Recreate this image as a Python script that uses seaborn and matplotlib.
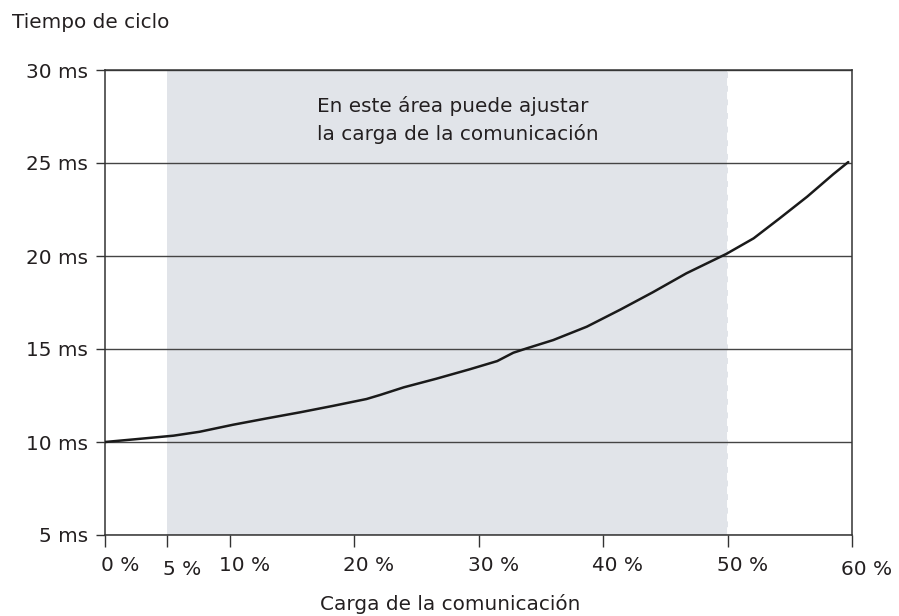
import matplotlib
matplotlib.use("Agg")
import matplotlib.pyplot as plt
import matplotlib.transforms as mtransforms
import seaborn as sns
import pandas as pd

# Communication load (%) vs. cycle time (ms)
load_pct = [0, 2.3, 5.5, 7.6, 10.3, 13.0, 15.7, 18.3, 21.0, 22.1, 24.0,
            26.6, 29.3, 31.5, 32.8, 33.9, 36.0, 38.7, 41.4, 44.0, 46.7,
            49.9, 52.1, 54.2, 56.4, 58.5, 59.7]
cycle_ms = [10.0, 10.14, 10.34, 10.55, 10.93, 11.27, 11.6, 11.94, 12.31,
            12.53, 12.94, 13.4, 13.91, 14.35, 14.8, 15.04, 15.48, 16.2,
            17.12, 18.05, 19.07, 20.11, 20.95, 22.03, 23.19, 24.4, 25.05]

x_ticks = [0, 5, 10, 20, 30, 40, 50, 60]
x_tick_labels = [f"{v} %" for v in x_ticks]
y_ticks = [5, 10, 15, 20, 25, 30]
y_tick_labels = [f"{v} ms" for v in y_ticks]

adjust_range = (5, 50)
note_lines = ["En este área puede ajustar", "la carga de la comunicación"]
y_title = "Tiempo de ciclo"
x_title = "Carga de la comunicación"

sns.set_theme(style="ticks")
plt.rcParams["font.family"] = ["DejaVu Sans"]

TXT = "#231f20"
FS = 14.4
W, H = 899, 616

fig = plt.figure(figsize=(W / 100, H / 100), dpi=100)
ax = fig.add_axes([105 / W, 1 - 535 / H, (852 - 105) / W, (535 - 70) / H])

df = pd.DataFrame({"carga": load_pct, "ciclo": cycle_ms})

# shaded adjustable zone
ax.axvspan(*adjust_range, color="#e1e4e9", zorder=0, lw=0)
ax.axvline(adjust_range[1], color="white", lw=1.4, ls=(0, (4, 3)), zorder=0.2)

sns.lineplot(data=df, x="carga", y="ciclo", ax=ax, color="#1a1a1a",
             lw=1.8, estimator=None, zorder=3)

ax.set_xlim(0, 60)
ax.set_ylim(5, 30)
ax.set_xlabel("")
ax.set_ylabel("")

ax.set_xticks(x_ticks)
ax.set_xticklabels(x_tick_labels, fontsize=FS, color=TXT)
ax.set_yticks(y_ticks)
ax.set_yticklabels(y_tick_labels, fontsize=FS, color=TXT)
ax.tick_params(axis="x", length=8.5, width=1, color="#333333", pad=6.5)
ax.tick_params(axis="y", length=6.5, width=1, color="#333333", pad=5.5)

# shift x tick labels to the right of their ticks
for val, lab in zip(x_ticks, ax.get_xticklabels()):
    dy = -4 / 100 if val in (5, 60) else 0
    off = mtransforms.ScaledTranslation(15 / 100, dy, fig.dpi_scale_trans)
    lab.set_transform(lab.get_transform() + off)

ax.set_axisbelow(True)
ax.yaxis.grid(True, color="#444444", lw=1.0)
ax.xaxis.grid(False)

for sp in ax.spines.values():
    sp.set_visible(True)
    sp.set_color("#333333")
    sp.set_linewidth(1.1)

# note inside the shaded zone
ax.text(317 / W, 1 - 112 / H, note_lines[0], transform=fig.transFigure,
        fontsize=FS, color=TXT, ha="left", va="baseline")
ax.text(317 / W, 1 - 140 / H, note_lines[1], transform=fig.transFigure,
        fontsize=FS, color=TXT, ha="left", va="baseline")

fig.text(12 / W, 1 - 28 / H, y_title, fontsize=FS, color=TXT,
         ha="left", va="baseline")
fig.text(450 / W, 1 - 610 / H, x_title, fontsize=FS, color=TXT,
         ha="center", va="baseline")

fig.savefig("out.png", dpi=100)
